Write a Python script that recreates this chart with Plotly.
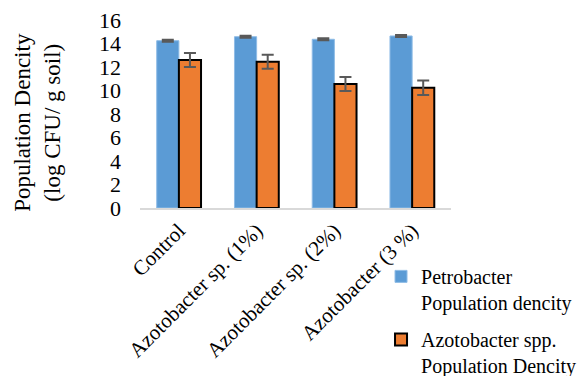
import plotly.graph_objects as go

categories = ["Control", "Azotobacter sp. (1%)", "Azotobacter sp. (2%)", "Azotobacter (3 %)"]
petro_values = [14.24, 14.58, 14.36, 14.64]
petro_err = [0.06, 0.06, 0.06, 0.06]
azoto_values = [12.6, 12.45, 10.55, 10.24]
azoto_err = [0.6, 0.6, 0.6, 0.62]
y_ticks = [0, 2, 4, 6, 8, 10, 12, 14, 16]
y_title = "Population Dencity<br>(log CFU/ g soil)"

font_family = "Liberation Serif, Times New Roman, serif"

fig = go.Figure()
fig.add_trace(go.Bar(
    x=categories, y=petro_values,
    name="Petrobacter<br>Population dencity", legendgroup="petro",
    marker=dict(color="#5B9BD5", line=dict(color="#8FBCE6", width=1)),
    error_y=dict(type="data", array=petro_err, color="#595959", thickness=2.5, width=6),
))
fig.add_trace(go.Bar(
    x=categories, y=azoto_values,
    name="Azotobacter spp.<br>Population Dencity", legendgroup="azoto",
    marker=dict(color="#ED7D31", line=dict(color="#000000", width=2)),
    error_y=dict(type="data", array=azoto_err, color="#595959", thickness=2, width=6),
))

fig.update_layout(
    width=583, height=376,
    margin=dict(l=140, r=132, t=20, b=168, autoexpand=False),
    paper_bgcolor="white", plot_bgcolor="white",
    font=dict(family=font_family, color="#000000", size=20),
    barmode="group", bargap=0.43, bargroupgap=0,
    showlegend=True,
    legend=dict(x=0.775, y=-0.26, xanchor="left", yanchor="top", valign="top",
                font=dict(size=20, family=font_family), tracegroupgap=8,
                itemwidth=30, bgcolor="rgba(0,0,0,0)"),
    annotations=[dict(
        text=y_title, textangle=-90, xref="paper", yref="paper",
        x=-0.33, y=0.455, xanchor="center", yanchor="middle", showarrow=False,
        font=dict(size=23, family=font_family, color="#000000"),
    )],
)
fig.update_xaxes(
    showgrid=False, showline=True, linecolor="#D9D9D9", linewidth=2,
    tickangle=-45, tickfont=dict(size=21, family=font_family),
    ticks="", automargin=False,
)
fig.update_yaxes(
    range=[0, 16], tickvals=y_ticks, showgrid=False, showline=False, zeroline=False,
    tickfont=dict(size=22, family=font_family), ticklabelstandoff=18,
    automargin=False,
)

fig.write_html("out.html", config={"displayModeBar": False},
               post_script="document.body.style.margin='0px';")
